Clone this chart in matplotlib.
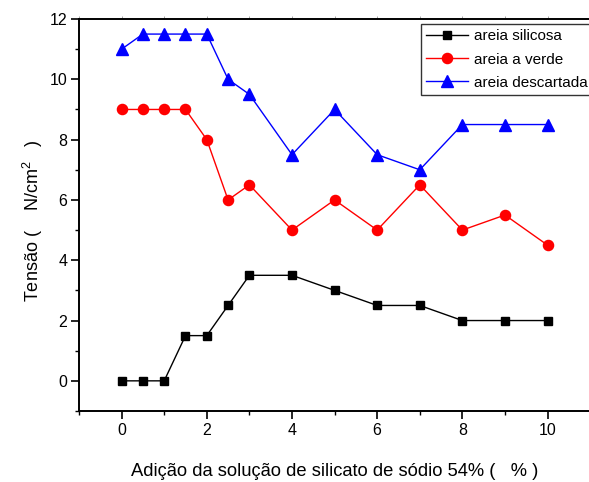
import numpy as np
import matplotlib
matplotlib.use('Agg')
from matplotlib import pyplot as plt
from matplotlib.ticker import MultipleLocator

plt.rcParams['font.family'] = ['Liberation Sans', 'DejaVu Sans']
plt.rcParams['mathtext.fontset'] = 'custom'
plt.rcParams['mathtext.rm'] = 'Liberation Sans'

# data
x = [0, 0.5, 1, 1.5, 2, 2.5, 3, 4, 5, 6, 7, 8, 9, 10]
silicosa = [0, 0, 0, 1.5, 1.5, 2.5, 3.5, 3.5, 3, 2.5, 2.5, 2, 2, 2]
verde = [9, 9, 9, 9, 8, 6, 6.5, 5, 6, 5, 6.5, 5, 5.5, 4.5]
descartada = [11, 11.5, 11.5, 11.5, 11.5, 10, 9.5, 7.5, 9, 7.5, 7, 8.5, 8.5, 8.5]
labels = ['areia silicosa', 'areia a verde', 'areia descartada']

fig = plt.figure(figsize=(5.89, 4.82), dpi=100)
ax = fig.add_axes([79/589, 1 - 411/482, 1 - 79/589 + 0.002, (411 - 19)/482])

ax.plot(x, silicosa, color='black', marker='s', ms=6, lw=1, label=labels[0])
ax.plot(x, verde, color='red', marker='o', ms=7.3, lw=1, label=labels[1])
ax.plot(x, descartada, color='blue', marker='^', ms=8.5, lw=1, label=labels[2])

ax.set_xlim(-1, 11)
ax.set_ylim(-1, 12)
ax.xaxis.set_major_locator(MultipleLocator(2))
ax.xaxis.set_minor_locator(MultipleLocator(1))
ax.yaxis.set_major_locator(MultipleLocator(2))
ax.yaxis.set_minor_locator(MultipleLocator(1))

ax.spines['right'].set_visible(False)
for s in ['left', 'bottom', 'top']:
    ax.spines[s].set_linewidth(1.4)
ax.tick_params(which='major', direction='out', length=5.5, width=1.2, labelsize=11.5, pad=3)
ax.tick_params(which='minor', direction='out', length=3, width=1.0)

# faint little ticks along the top edge
top = ax.secondary_xaxis('top')
top.set_xticks(np.arange(-1, 12, 1))
top.tick_params(direction='out', length=2, width=0.7, color='0.65', labeltop=False)
top.spines['top'].set_visible(False)

ax.set_xlabel('Adição da solução de silicato de sódio 54% (   % )', fontsize=13.2, labelpad=18.5)
ax.set_ylabel('Tensão (    N/cm$^{2}$   )', fontsize=13, labelpad=3, y=0.485)

leg = ax.legend(loc='upper right', bbox_to_anchor=(1.012, 0.995), fontsize=11,
                frameon=True, fancybox=False, edgecolor='black', handlelength=2.75,
                borderpad=0.35, labelspacing=0.6, handletextpad=0.4, borderaxespad=0.2)
leg.get_frame().set_linewidth(1.0)

fig.savefig('out.png', dpi=100)
